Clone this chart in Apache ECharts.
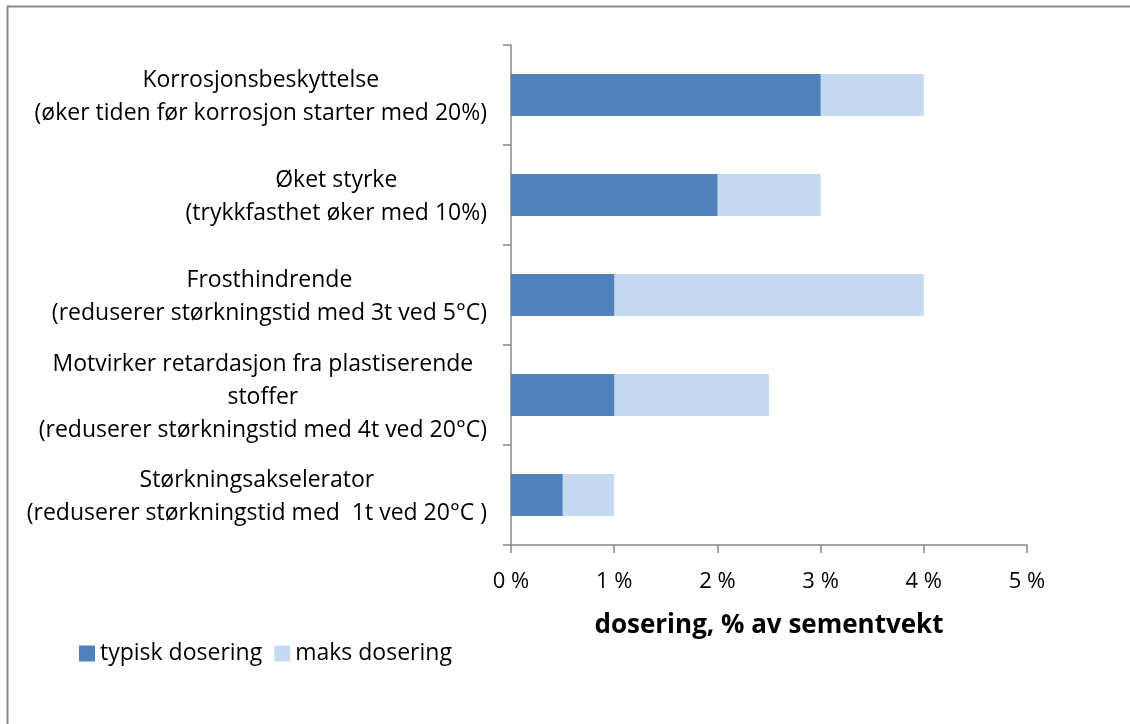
<!DOCTYPE html>
<html>
<head>
<meta charset="utf-8">
<script src="https://cdn.jsdelivr.net/npm/echarts@6/dist/echarts.min.js"></script>
<style>html,body{margin:0;padding:0;background:#fff;}#c{width:1130px;height:724px;}</style>
</head>
<body>
<div id="c"></div>
<script>
const categories = [
  "Korrosjonsbeskyttelse\n(øker tiden før korrosjon starter med 20%)",
  "Øket styrke\n(trykkfasthet øker med 10%)",
  "Frosthindrende\n(reduserer størkningstid med 3t ved 5°C)",
  "Motvirker retardasjon fra plastiserende\nstoffer\n(reduserer størkningstid med 4t ved 20°C)",
  "Størkningsakselerator\n(reduserer størkningstid med  1t ved 20°C )"
];
const typiskDosering = [3, 2, 1, 1, 0.5];
const maksDosering = [4, 3, 4, 2.5, 1];
const xTicks = { min: 0, max: 5, interval: 1 };
const seriesNames = ["typisk dosering", "maks dosering"];
const axisTitle = "dosering, % av sementvekt";

const FONT = "Open Sans";
const chart = echarts.init(document.getElementById('c'));
chart.setOption({
  animation: false,
  textStyle: { fontFamily: FONT, color: '#000' },
  graphic: [{
    type: 'rect', silent: true,
    shape: { x: 7.5, y: 6.5, width: 1300, height: 900 },
    style: { fill: 'none', stroke: '#888', lineWidth: 2 }
  }],
  grid: { left: 511, right: 103, top: 45, bottom: 179, containLabel: false },
  legend: {
    data: seriesNames, left: 74, top: 637, icon: 'rect',
    itemWidth: 16, itemHeight: 16, itemGap: 12,
    textStyle: { fontFamily: FONT, fontSize: 23, color: '#000' }
  },
  xAxis: {
    type: 'value', min: xTicks.min, max: xTicks.max, interval: xTicks.interval,
    name: axisTitle, nameLocation: 'middle', nameGap: 68,
    nameTextStyle: { fontFamily: FONT, fontSize: 26, fontWeight: 'bold', color: '#000' },
    axisLine: { show: true, lineStyle: { color: '#868686', width: 1.5 } },
    axisTick: { show: true, length: 8, lineStyle: { color: '#868686', width: 1.5 } },
    splitLine: { show: false },
    axisLabel: { formatter: '{value} %', fontSize: 22, color: '#000', margin: 26, fontFamily: FONT }
  },
  yAxis: {
    type: 'category', data: categories, inverse: true,
    axisLine: { show: true, lineStyle: { color: '#868686', width: 1.5 } },
    axisTick: { show: true, length: 8, lineStyle: { color: '#868686', width: 1.5 } },
    axisLabel: {
      margin: 24, fontFamily: FONT, fontSize: 23, color: '#000', lineHeight: 33,
      formatter: function (v) {
        return v.split('\n').map(function (l) { return '{c|' + l + '}'; }).join('\n');
      },
      rich: { c: { align: 'center', fontFamily: FONT, fontSize: 23, lineHeight: 33, color: '#000', padding: [4, 0, 0, 0] } }
    }
  },
  series: [
    { name: seriesNames[1], type: 'bar', data: maksDosering, barWidth: 42,
      itemStyle: { color: '#C6D9F1' }, z: 1 },
    { name: seriesNames[0], type: 'bar', data: typiskDosering, barWidth: 42, barGap: '-100%',
      itemStyle: { color: '#4F81BD' }, z: 2 }
  ]
});
</script>
</body>
</html>
